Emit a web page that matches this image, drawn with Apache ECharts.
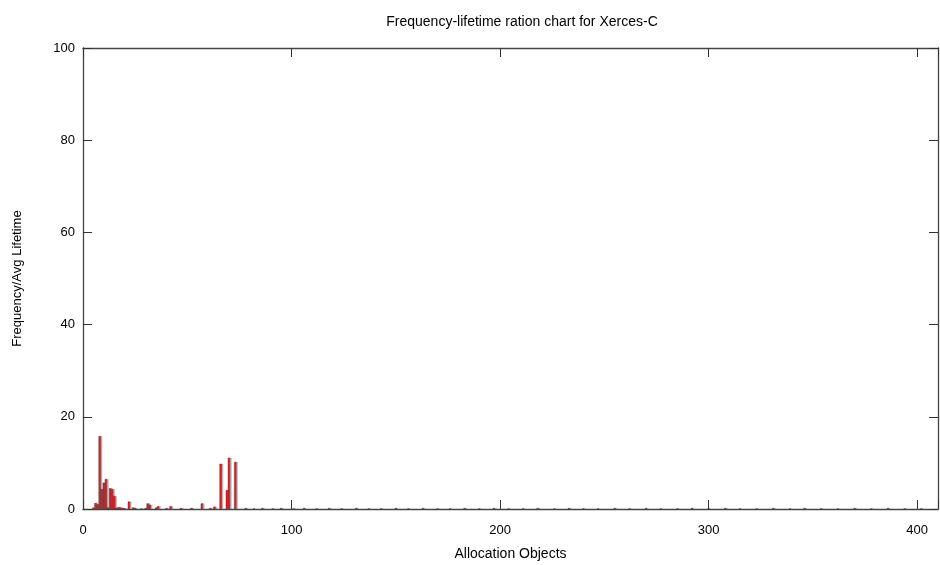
<!DOCTYPE html>
<html>
<head>
<meta charset="utf-8">
<script src="https://cdn.jsdelivr.net/npm/echarts@6/dist/echarts.min.js"></script>
<style>html,body{margin:0;padding:0;background:#fff;}#c{width:940px;height:565px;}</style>
</head>
<body>
<div id="c"></div>
<script>
var titleText = "Frequency-lifetime ration chart for Xerces-C";
var xName = "Allocation Objects";
var yName = "Frequency/Avg Lifetime";
var objectIds = [5,6,7,8,9,10,11,12,13,14,15,16,17,18,19,20,22,24,25,28,30,31,32,35,36,40,42,47,52,57,61,63,66,69,70,73,
  78,82,86,91,95,101,106,112,118,124,131,137,143,150,156,163,170,176,183,190,197,204,211,218,226,233,240,247,255,262,270,277,285,292,300,308,315,323,331,339,346,354,362,370,378,386,394,402,408];
var ratios = [0.3,1.3,1.0,15.8,4.3,5.7,6.5,0.3,4.5,4.3,2.8,0.2,0.4,0.3,0.2,0.1,1.6,0.3,0.2,0.1,0.2,1.2,0.9,0.3,0.6,0.2,0.6,0.2,0.2,1.2,0.2,0.5,9.8,4.1,11.1,10.2,
  0.2,0.1,0.2,0.1,0.2,0.1,0.2,0.1,0.2,0.1,0.2,0.1,0.1,0.2,0.1,0.2,0.1,0.1,0.2,0.1,0.2,0.1,0.1,0.2,0.1,0.2,0.1,0.1,0.2,0.1,0.2,0.1,0.1,0.2,0.1,0.2,0.1,0.1,0.2,0.1,0.2,0.1,0.1,0.2,0.1,0.2,0.1,0.1];

var data = objectIds.map(function(x, i){ return [x, ratios[i]]; });
var font = "Liberation Sans, Arial, sans-serif";
var chart = echarts.init(document.getElementById('c'), null, {renderer:'canvas'});
var axisLine = {show:true, onZero:false, lineStyle:{color:'#444', width:1.3}};
var tick = {show:true, inside:true, length:9, lineStyle:{color:'#333'}};
chart.setOption({
  animation:false,
  title:{text:titleText, left:517, top:10, textAlign:'center',
    textStyle:{fontFamily:font, fontSize:14, fontWeight:'normal', color:'#000'}},
  grid:{left:83, top:48, width:855, height:461, containLabel:false, outerBoundsMode:'none'},
  xAxis:[{
    type:'value', min:0, max:410, interval:100, position:'bottom',
    name:xName, nameLocation:'middle', nameGap:38,
    nameTextStyle:{fontFamily:font, fontSize:14, color:'#000'},
    axisLine:axisLine, axisTick:tick,
    axisLabel:{fontFamily:font, fontSize:13, color:'#000', margin:15,
      formatter:function(v){ return v>400? '' : v; }},
    splitLine:{show:false}
  },{
    type:'value', min:0, max:410, interval:100, position:'top',
    axisLine:axisLine, axisTick:tick,
    axisLabel:{show:false}, splitLine:{show:false}
  }],
  yAxis:[{
    type:'value', min:0, max:100, interval:20, position:'left',
    name:yName, nameLocation:'middle', nameGap:59, nameRotate:90,
    nameTextStyle:{fontFamily:font, fontSize:13, color:'#000'},
    axisLine:axisLine, axisTick:tick,
    axisLabel:{fontFamily:font, fontSize:13, color:'#000', margin:8},
    splitLine:{show:false}
  },{
    type:'value', min:0, max:100, interval:20, position:'right',
    axisLine:axisLine, axisTick:tick,
    axisLabel:{show:false}, splitLine:{show:false}
  }],
  series:[{
    type:'bar', xAxisIndex:0, yAxisIndex:0, barWidth:2.2, data:data,
    itemStyle:{color:'#ee1c22', borderColor:'#5a1010', borderWidth:0.4,
      shadowColor:'rgba(140,140,140,0.6)', shadowOffsetX:1.5, shadowOffsetY:0, shadowBlur:0}
  }]
});
</script>
</body>
</html>
